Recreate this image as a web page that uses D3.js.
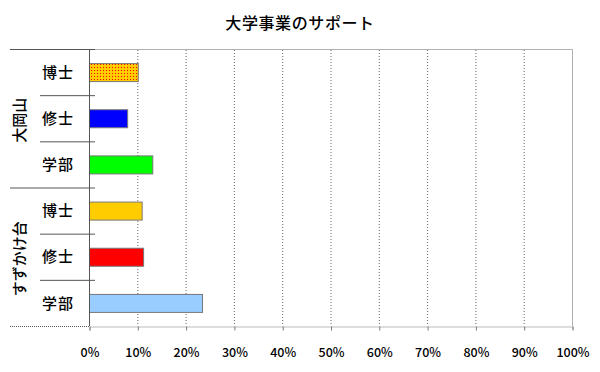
<!DOCTYPE html>
<html>
<head>
<meta charset="utf-8">
<script src="https://cdn.jsdelivr.net/npm/d3@7"></script>
<style>
  body { margin: 0; background: #fff; }
  text { font-family: "Noto Sans CJK JP", sans-serif; fill: #000; }
</style>
</head>
<body>
<svg id="chart" width="600" height="372"></svg>
<script>
// data
const groups = ["大岡山", "すずかけ台"];
const levels = ["博士", "修士", "学部"];
const values = [
    [0.101, 0.079, 0.131],   // 大岡山
    [0.109, 0.112, 0.234]    // すずかけ台
];
const colors = [
    ["url(#dots)", "#0000ff", "#00ff00"],
    ["#ffcc00", "#ff0000", "#99ccff"]
];
const tickValues = [0, 0.1, 0.2, 0.3, 0.4, 0.5, 0.6, 0.7, 0.8, 0.9, 1];

const rows = [];
groups.forEach((g, gi) => {
    levels.forEach((l, li) => {
        rows.push({ id: g + "-" + l, group: g, level: l, value: values[gi][li], color: colors[gi][li] });
    });
});

const svg = d3.select("#chart");
const plotLeft = 89, plotRight = 572, plotTop = 49, plotBottom = 326;

const x = d3.scaleLinear().domain([0, 1]).range([plotLeft, plotRight]);
const y = d3.scaleBand()
    .domain(rows.map(r => r.id))
    .range([plotTop, plotBottom])
    .paddingInner(0.61)
    .paddingOuter(0.305);

// dotted fill for the first bar
const defs = svg.append("defs");
const pat = defs.append("pattern")
    .attr("id", "dots")
    .attr("width", 3).attr("height", 3)
    .attr("patternUnits", "userSpaceOnUse");
pat.append("rect").attr("width", 3).attr("height", 3).attr("fill", "#ffcc00");
pat.append("rect").attr("x", 1).attr("y", 1).attr("width", 1).attr("height", 1).attr("fill", "#ff0000");

// title
svg.append("text")
    .attr("x", 300).attr("y", 29)
    .attr("text-anchor", "middle")
    .attr("font-size", 16)
    .attr("font-weight", 500)
    .attr("letter-spacing", 0.6)
    .text("大学事業のサポート");

// plot border (top + right)
svg.append("path")
    .attr("d", `M${plotLeft},${plotTop + 0.5}H${plotRight + 0.5}V${plotBottom}`)
    .attr("fill", "none")
    .attr("stroke", "#b0b0b0");

// grid lines
svg.append("g").selectAll("line")
    .data(tickValues.slice(1, -1))
    .join("line")
    .attr("x1", d => x(d) + 0.5).attr("x2", d => x(d) + 0.5)
    .attr("y1", plotTop + 1).attr("y2", plotBottom)
    .attr("stroke", "#666")
    .attr("stroke-dasharray", "1,2");

// x axis
const xAxis = svg.append("g")
    .attr("transform", `translate(0.5,${plotBottom + 0.5})`)
    .call(d3.axisBottom(x).tickValues(tickValues).tickFormat(d3.format(".0%")).tickSize(4).tickPadding(18));
xAxis.select(".domain").attr("stroke", "#777").attr("stroke-dasharray", "1,1");
xAxis.selectAll(".tick line").attr("stroke", "#777");
xAxis.selectAll(".tick text")
    .attr("font-family", "\"Noto Sans CJK JP\", sans-serif")
    .attr("font-size", 12.5)
    .attr("font-weight", 500)
    .attr("fill", "#000");

// bars
svg.append("g").selectAll("rect")
    .data(rows)
    .join("rect")
    .attr("x", x(0) + 0.5)
    .attr("y", d => y(d.id) + 0.5)
    .attr("width", d => x(d.value) - x(0))
    .attr("height", y.bandwidth())
    .attr("fill", d => d.color)
    .attr("stroke", "#777")
    .attr("stroke-width", 1);

// left axis line
svg.append("line")
    .attr("x1", plotLeft + 0.5).attr("x2", plotLeft + 0.5)
    .attr("y1", plotTop).attr("y2", plotBottom)
    .attr("stroke", "#555");

// category dividers
const step = y.step();
const groupEdges = [0, 3, 6];
svg.append("g").selectAll("line")
    .data(groupEdges)
    .join("line")
    .attr("x1", 10)
    .attr("x2", d => d === 6 ? plotLeft : plotLeft + 6)
    .attr("y1", d => plotTop + d * step + 0.5)
    .attr("y2", d => plotTop + d * step + 0.5)
    .attr("stroke", "#555")
    .attr("stroke-dasharray", d => d === 6 ? "1,1" : null);

const subEdges = [1, 2, 4, 5];
svg.append("g").selectAll("line")
    .data(subEdges)
    .join("line")
    .attr("x1", 40).attr("x2", plotLeft + 6)
    .attr("y1", d => plotTop + d * step + 0.5)
    .attr("y2", d => plotTop + d * step + 0.5)
    .attr("stroke", "#555");

// level labels
svg.append("g").selectAll("text")
    .data(rows)
    .join("text")
    .attr("x", 58)
    .attr("y", d => y(d.id) + y.bandwidth() / 2)
    .attr("dy", "0.38em")
    .attr("text-anchor", "middle")
    .attr("font-size", 15)
    .attr("font-weight", 500)
    .attr("letter-spacing", 1)
    .text(d => d.level);

// group labels
svg.append("g").selectAll("text")
    .data(groups)
    .join("text")
    .attr("transform", (d, i) => `translate(20,${plotTop + (i * 3 + 1.5) * step + 2}) rotate(-90)`)
    .attr("dy", "0.36em")
    .attr("text-anchor", "middle")
    .attr("font-size", 15)
    .attr("font-weight", 500)
    .text(d => d);
</script>
</body>
</html>
